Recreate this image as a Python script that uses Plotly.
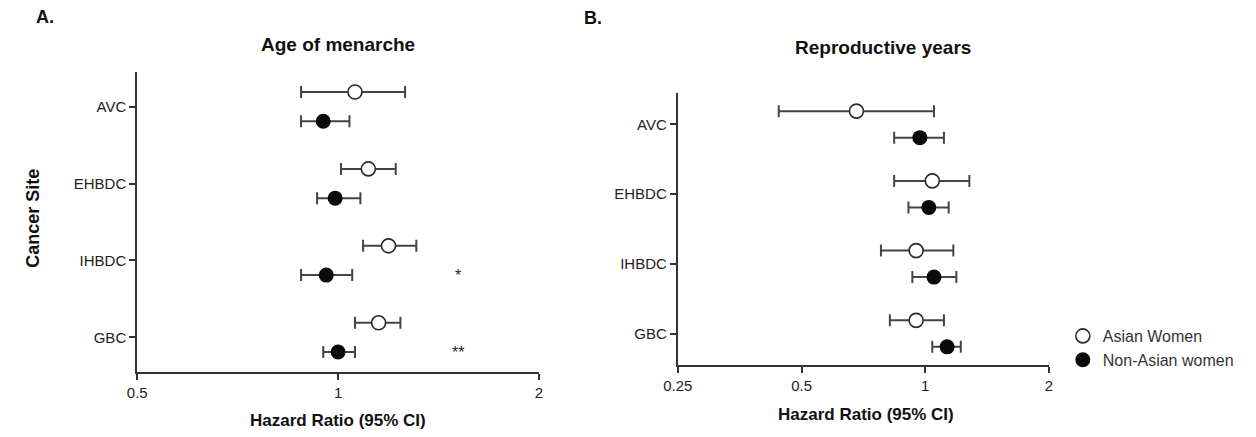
import math
import plotly.graph_objects as go

# ---------------- data ----------------
sites = ["AVC", "EHBDC", "IHBDC", "GBC"]

# Panel A: Age of menarche
a_asian_hr = [1.06, 1.11, 1.19, 1.15]
a_asian_lo = [0.88, 1.01, 1.09, 1.06]
a_asian_hi = [1.26, 1.22, 1.31, 1.24]
a_non_hr = [0.95, 0.99, 0.96, 1.00]
a_non_lo = [0.88, 0.93, 0.88, 0.95]
a_non_hi = [1.04, 1.08, 1.05, 1.06]
a_sig = ["", "", "*", "**"]

# Panel B: Reproductive years
b_asian_hr = [0.68, 1.04, 0.95, 0.95]
b_asian_lo = [0.44, 0.84, 0.78, 0.82]
b_asian_hi = [1.05, 1.28, 1.17, 1.11]
b_non_hr = [0.97, 1.02, 1.05, 1.13]
b_non_lo = [0.84, 0.91, 0.93, 1.04]
b_non_hi = [1.11, 1.14, 1.19, 1.22]

a_ticks = [0.5, 1, 2]
b_ticks = [0.25, 0.5, 1, 2]

# ---------------- layout helpers ----------------
# page body has an 8px default margin; figure is sized so page = 1256x437
M = 8
W, H = 1256 - 2 * M, 437 - 2 * M
def px(x):
    return (x - M) / W
def py(y):
    return 1 - (y - M) / H

OFF = 0.19
FONT = "Liberation Sans, Arial, sans-serif"
AX = "#333333"
EB = "#444444"

fig = go.Figure()

def add_panel(xa, ya, asian_hr, asian_lo, asian_hi, non_hr, non_lo, non_hi, showlegend):
    pos = list(range(len(sites)))
    fig.add_trace(go.Scatter(
        x=asian_hr, y=[p - OFF for p in pos], mode="markers", name="Asian Women",
        xaxis=xa, yaxis=ya, showlegend=showlegend,
        marker=dict(symbol="circle", size=14, color="white", line=dict(color="#2a2a2a", width=1.6)),
        error_x=dict(type="data", symmetric=False,
                     array=[h - c for h, c in zip(asian_hi, asian_hr)],
                     arrayminus=[c - l for c, l in zip(asian_hr, asian_lo)],
                     color=EB, thickness=2, width=6),
        text=sites, hovertemplate="%{text}: %{x}<extra>Asian Women</extra>",
    ))
    fig.add_trace(go.Scatter(
        x=non_hr, y=[p + OFF for p in pos], mode="markers", name="Non-Asian women",
        xaxis=xa, yaxis=ya, showlegend=showlegend,
        marker=dict(symbol="circle", size=15, color="#0a0a0a", line=dict(color="#0a0a0a", width=0)),
        error_x=dict(type="data", symmetric=False,
                     array=[h - c for h, c in zip(non_hi, non_hr)],
                     arrayminus=[c - l for c, l in zip(non_hr, non_lo)],
                     color=EB, thickness=2, width=6),
        text=sites, hovertemplate="%{text}: %{x}<extra>Non-Asian women</extra>",
    ))

add_panel("x", "y", a_asian_hr, a_asian_lo, a_asian_hi, a_non_hr, a_non_lo, a_non_hi, False)
add_panel("x2", "y2", b_asian_hr, b_asian_lo, b_asian_hi, b_non_hr, b_non_lo, b_non_hi, True)

def xaxis_cfg(ticks, domain):
    return dict(type="log", domain=domain,
                range=[math.log10(ticks[0]), math.log10(ticks[-1])],
                tickvals=ticks, ticktext=[f"{t:g}" for t in ticks],
                showline=True, linecolor=AX, linewidth=2,
                ticks="outside", ticklen=6, tickwidth=1.5, tickcolor=AX,
                showgrid=False, zeroline=False,
                tickfont=dict(family=FONT, size=15, color="#222"))

def yaxis_cfg(domain, anchor):
    return dict(domain=domain, anchor=anchor,
                range=[len(sites) - 1 + 0.45, -0.45],
                tickvals=list(range(len(sites))), ticktext=sites,
                showline=True, linecolor=AX, linewidth=2,
                ticks="outside", ticklen=6, tickwidth=1.5, tickcolor=AX,
                showgrid=False, zeroline=False,
                tickfont=dict(family=FONT, size=15, color="#222"))

fig.update_layout(
    width=W, height=H,
    margin=dict(l=0, r=0, t=0, b=0),
    paper_bgcolor="white", plot_bgcolor="white",
    font=dict(family=FONT, color="#222"),
    xaxis=dict(**xaxis_cfg(a_ticks, [px(124), px(532)]), anchor="y"),
    yaxis=yaxis_cfg([py(372), py(72)], "x"),
    xaxis2=dict(**xaxis_cfg(b_ticks, [px(673), px(1050)]), anchor="y2"),
    yaxis2=yaxis_cfg([py(365), py(93)], "x2"),
    legend=dict(x=px(1064), y=py(319), xanchor="left", yanchor="top",
                font=dict(family=FONT, size=16, color="#333"),
                bgcolor="rgba(0,0,0,0)", borderwidth=0, tracegroupgap=0),
    showlegend=True,
)

# reference lines at HR = 1
for xr, yr in [("x", "y domain"), ("x2", "y2 domain")]:
    fig.add_shape(type="line", xref=xr, yref=yr, x0=0, x1=0, y0=0, y1=1,
                  line=dict(color="#777", width=1.5, dash="dot"), layer="below")

# significance stars
for i, s in enumerate(a_sig):
    if s:
        fig.add_annotation(x=math.log10(1.51), y=i + OFF, xref="x", yref="y", text=s,
                           showarrow=False, font=dict(family=FONT, size=16, color="#222"))

def label(text, x, y, size, bold=True, angle=0):
    fig.add_annotation(x=px(x), y=py(y), xref="paper", yref="paper",
                       text=f"<b>{text}</b>" if bold else text, showarrow=False,
                       textangle=angle, xanchor="center", yanchor="middle",
                       font=dict(family=FONT, size=size, color="#111"))

label("A.", 30, 17, 18)
label("B.", 587, 18, 18)
label("Age of menarche", 328, 45, 19)
label("Reproductive years", 881, 48, 19)
label("Cancer Site", 18, 218, 18, angle=-90)
label("Hazard Ratio (95% CI)", 328, 420, 17)
label("Hazard Ratio (95% CI)", 864, 414, 17)

fig.write_html("out.html")
